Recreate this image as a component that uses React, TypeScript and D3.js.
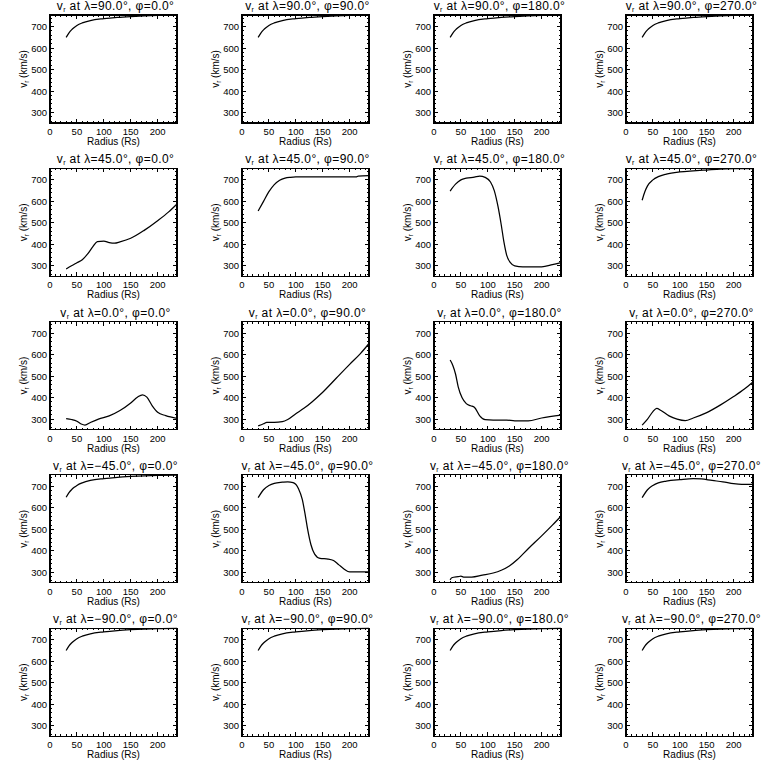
import React from 'react';
import * as d3 from 'd3';

// grid layout of the 5x4 panel figure
const latitudes = [90, 45, 0, -45, -90];
const longitudes = [0, 90, 180, 270];

const xTicks = [0, 50, 100, 150, 200];
const yTicks = [300, 400, 500, 600, 700];

// v_r (km/s) against radius (Rs)
const fastWind: [number, number][] = [
  [30, 650], [35, 670], [40, 685], [45, 696], [50, 705], [60, 717], [75, 728],
  [100, 737], [125, 743], [150, 747], [175, 750], [200, 752], [236, 753],
];
const lat45lon0: [number, number][] = [
  [30, 285], [40, 300], [50, 314], [60, 328], [70, 355], [80, 390], [88, 413],
  [100, 415], [110, 408], [120, 405], [130, 411], [150, 428], [175, 465],
  [200, 510], [220, 550], [236, 588],
];
const lat45lon90: [number, number][] = [
  [30, 555], [40, 600], [50, 645], [60, 678], [70, 698], [80, 708], [90, 712],
  [100, 714], [150, 714], [212, 714], [216, 718], [236, 720],
];
const lat45lon180: [number, number][] = [
  [30, 648], [40, 680], [50, 700], [60, 708], [75, 713], [85, 718], [95, 712],
  [105, 690], [112, 650], [119, 575], [125, 490], [130, 410], [135, 350],
  [142, 315], [150, 300], [165, 295], [200, 295], [220, 305], [236, 315],
];
const lat45lon270: [number, number][] = [
  [30, 605], [35, 645], [40, 672], [50, 700], [60, 715], [75, 727], [100, 737],
  [125, 742], [150, 746], [175, 750], [200, 752], [236, 753],
];
const lat0lon0: [number, number][] = [
  [30, 302], [40, 298], [50, 290], [58, 277], [65, 272], [75, 284], [90, 300],
  [110, 315], [130, 340], [150, 375], [163, 403], [172, 413], [180, 402],
  [190, 362], [200, 332], [215, 316], [236, 303],
];
const lat0lon90: [number, number][] = [
  [30, 268], [40, 278], [46, 285], [60, 285], [75, 288], [85, 298], [100, 325],
  [115, 350], [130, 380], [150, 425], [175, 490], [200, 555], [220, 605], [236, 652],
];
const lat0lon180: [number, number][] = [
  [30, 575], [35, 550], [40, 510], [45, 450], [52, 400], [60, 372], [68, 362],
  [75, 355], [85, 315], [95, 297], [110, 295], [135, 295], [150, 292],
  [175, 292], [200, 305], [236, 318],
];
const lat0lon270: [number, number][] = [
  [30, 272], [40, 300], [50, 335], [57, 350], [65, 340], [80, 315], [95, 300],
  [110, 293], [125, 305], [150, 330], [175, 365], [200, 405], [220, 440], [236, 473],
];
const latm45lon90: [number, number][] = [
  [30, 648], [40, 685], [50, 705], [60, 715], [75, 720], [85, 722], [95, 718],
  [105, 690], [112, 640], [118, 560], [122, 500], [128, 430], [135, 385],
  [145, 365], [160, 362], [170, 355], [180, 335], [190, 315], [200, 302], [236, 302],
];
const latm45lon180: [number, number][] = [
  [30, 265], [33, 275], [45, 280], [50, 282], [55, 278], [70, 278], [90, 287],
  [110, 297], [125, 310], [140, 330], [155, 360], [175, 410], [200, 470],
  [220, 520], [236, 562],
];
const latm45lon270: [number, number][] = [
  [30, 648], [40, 685], [50, 705], [60, 717], [75, 725], [100, 732], [125, 737],
  [140, 735], [160, 728], [180, 722], [200, 713], [215, 710], [236, 710],
];

const curves: [number, number][][][] = [
  [fastWind, fastWind, fastWind, fastWind],
  [lat45lon0, lat45lon90, lat45lon180, lat45lon270],
  [lat0lon0, lat0lon90, lat0lon180, lat0lon270],
  [fastWind, latm45lon90, latm45lon180, latm45lon270],
  [fastWind, fastWind, fastWind, fastWind],
];

const W = 127;
const H = 108;
const font = '"Liberation Sans", Arial, sans-serif';

const x = d3.scaleLinear().domain([0, 236]).range([0, W]);
const y = d3.scaleLinear().domain([251, 754]).range([H, 0]);
const line = d3.line<[number, number]>()
  .x(d => x(d[0]))
  .y(d => y(d[1]))
  .curve(d3.curveMonotoneX);

const xMinor = d3.range(0, 236, 10);
const yMinor = d3.range(260, 754, 20);

const fmt = (v: number) => (v < 0 ? '\u2212' : '') + Math.abs(v).toFixed(1);

function Panel({ lat, lon, data, left, top }: { lat: number; lon: number; data: [number, number][]; left: number; top: number }) {
  return (
    <g transform={`translate(${left},${top})`}>
      <text x={W / 2 + 2} y={-5} textAnchor="middle" fontSize={12} letterSpacing={0.4} fontFamily={font}>
        v<tspan fontSize={7} dy={2}>r</tspan>
        <tspan dy={-2}>{` at \u03bb=${fmt(lat)}\u00b0, \u03c6=${fmt(lon)}\u00b0`}</tspan>
      </text>
      <path d={line(data) ?? ''} fill="none" stroke="#000" strokeWidth={1.25} />
      <rect x={0} y={0} width={W} height={H} fill="none" stroke="#000" strokeWidth={1.2} shapeRendering="crispEdges" />
      <g stroke="#000" strokeWidth={1} shapeRendering="crispEdges">
        {xMinor.map(t => {
          const len = t % 50 === 0 ? 4 : 2;
          return (
            <g key={'x' + t}>
              <line x1={x(t)} x2={x(t)} y1={H} y2={H - len} />
              <line x1={x(t)} x2={x(t)} y1={0} y2={len} />
            </g>
          );
        })}
        {yMinor.map(t => {
          const len = t % 100 === 0 ? 4 : 2;
          return (
            <g key={'y' + t}>
              <line x1={0} x2={len} y1={y(t)} y2={y(t)} />
              <line x1={W} x2={W - len} y1={y(t)} y2={y(t)} />
            </g>
          );
        })}
      </g>
      {xTicks.map(t => (
        <text key={'xl' + t} x={x(t)} y={H + 12} textAnchor="middle" fontSize={9.5} fontFamily={font}>{t}</text>
      ))}
      {yTicks.map(t => (
        <text key={'yl' + t} x={-3} y={y(t) + 3.5} textAnchor="end" fontSize={9.5} fontFamily={font}>{t}</text>
      ))}
      <text x={W / 2} y={H + 22} textAnchor="middle" fontSize={10} fontFamily={font}>Radius (Rs)</text>
      <text transform={`translate(-23,${H / 2}) rotate(-90)`} textAnchor="middle" fontSize={10} fontFamily={font}>
        v<tspan fontSize={6.5} dy={2}>r</tspan><tspan dy={-2}> (km/s)</tspan>
      </text>
    </g>
  );
}

export default function App() {
  return (
    <svg width={768} height={768} style={{ position: 'absolute', left: 0, top: 0, background: '#fff' }}>
      <rect width={768} height={768} fill="#fff" />
      {latitudes.map((lat, i) =>
        longitudes.map((lon, j) => (
          <Panel
            key={`${i}-${j}`}
            lat={lat}
            lon={lon}
            data={curves[i][j]}
            left={50 + j * 192}
            top={15 + i * 153.3}
          />
        ))
      )}
    </svg>
  );
}
